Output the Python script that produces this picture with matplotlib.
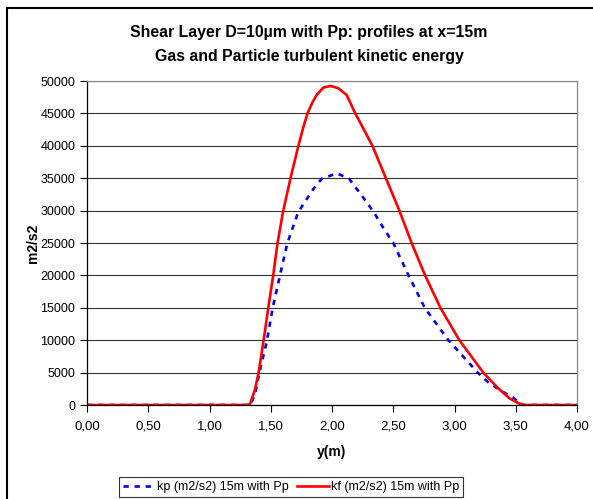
import numpy as np
import matplotlib
matplotlib.use("Agg")
import matplotlib.pyplot as plt
from matplotlib.patches import Rectangle
from matplotlib.ticker import FuncFormatter, MultipleLocator

plt.rcParams["font.family"] = ["Liberation Sans", "DejaVu Sans"]

# ── profiles at x = 15 m ──────────────────────────────────────────────────────
y_kf = [0.00, 0.50, 1.00, 1.30, 1.33, 1.37, 1.40, 1.44, 1.48, 1.52, 1.555, 1.60,
        1.66, 1.725, 1.765, 1.80, 1.84, 1.875, 1.93, 1.99, 2.05, 2.12, 2.19,
        2.255, 2.33, 2.44, 2.55, 2.65, 2.76, 2.885, 3.04, 3.235, 3.35, 3.45,
        3.53, 3.575, 3.70, 4.00]
kf = [0, 0, 0, 0, 100, 2300, 4900, 9770, 15000, 20000, 24950, 29800,
      34900, 39970, 42800, 45000, 46700, 47840, 49000, 49230, 48900, 47840, 45000,
      42700, 40000, 35000, 30000, 25000, 20000, 15000, 10000, 5000, 2700, 1000,
      200, 0, 0, 0]

y_kp = [0.00, 0.50, 1.00, 1.33, 1.37, 1.406, 1.467, 1.516, 1.575, 1.635, 1.725,
        1.85, 1.915, 2.04, 2.14, 2.24, 2.34, 2.42, 2.50, 2.625, 2.757, 2.95,
        3.19, 3.27, 3.38, 3.48, 3.55, 3.70, 4.00]
kp = [0, 0, 0, 0, 1500, 4900, 9770, 15000, 20000, 24950, 29800,
      33400, 34900, 35760, 34900, 32400, 29800, 27300, 25000, 20000, 15000, 10000,
      5000, 3600, 2200, 1100, 0, 0, 0]

fig = plt.figure(figsize=(5.93, 4.99), dpi=100)
ax = fig.add_axes([87 / 593, 1 - 405 / 499, 490 / 593, 324 / 499])

ax.plot(y_kp, kp, color="#0000ff", lw=1.9, dashes=(2, 2.2),
        label="kp (m2/s2) 15m with Pp")
ax.plot(y_kf, kf, color="#ff0000", lw=1.9, label="kf (m2/s2) 15m with Pp")

ax.set_xlim(0, 4)
ax.set_ylim(0, 50000)
ax.xaxis.set_major_locator(MultipleLocator(0.5))
ax.yaxis.set_major_locator(MultipleLocator(5000))
ax.xaxis.set_major_formatter(FuncFormatter(lambda v, p: f"{v:.2f}".replace(".", ",")))
ax.yaxis.set_major_formatter(FuncFormatter(lambda v, p: f"{v:.0f}"))
ax.tick_params(direction="out", length=5, width=0.8, labelsize=9, colors="black")
ax.tick_params(axis="x", pad=6, labelsize=9.5)
ax.grid(axis="y", color="#333333", lw=0.8)
ax.set_axisbelow(True)
for side in ("left", "bottom"):
    ax.spines[side].set_color("black")
    ax.spines[side].set_linewidth(0.9)
for side in ("top", "right"):
    ax.spines[side].set_color("#888888")
    ax.spines[side].set_linewidth(0.9)

ax.set_xlabel("y(m)", fontsize=10, fontweight="bold", labelpad=9)
ax.set_ylabel("m2/s2", fontsize=10, fontweight="bold", labelpad=0)

fig.text(309 / 593, 1 - 33 / 499, "Shear Layer D=10µm with Pp: profiles at x=15m",
         ha="center", va="center", fontsize=11.4, fontweight="bold")
fig.text(309 / 593, 1 - 56 / 499, "Gas and Particle turbulent kinetic energy",
         ha="center", va="center", fontsize=11.4, fontweight="bold")

leg = ax.legend(loc="center", bbox_to_anchor=(291 / 593, 1 - 487 / 499),
                bbox_transform=fig.transFigure, ncol=2, fontsize=9,
                frameon=True, fancybox=False, handlelength=2.6,
                handletextpad=0.15, columnspacing=0.6, borderpad=0.3,
                borderaxespad=0)
leg.get_frame().set_edgecolor("black")
leg.get_frame().set_linewidth(0.8)

# outer chart frame, running off the right and bottom edges
fig.patches.append(Rectangle((7 / 593, -0.1), 1.0, 1 - 8 / 499 + 0.1,
                             transform=fig.transFigure, fill=False,
                             edgecolor="black", lw=1.5))

fig.savefig("out.png", dpi=100)
